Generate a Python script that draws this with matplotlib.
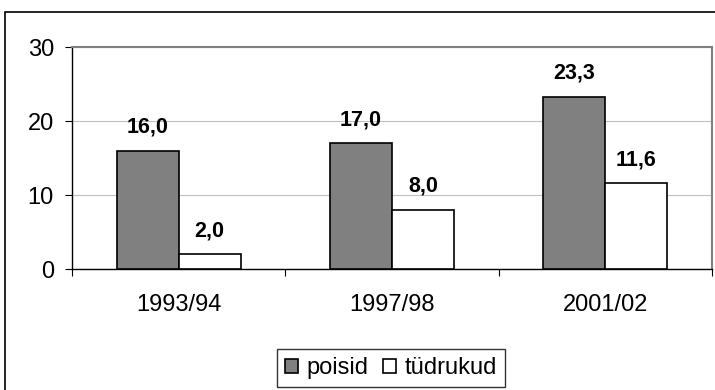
import matplotlib
matplotlib.use("Agg")
import matplotlib.pyplot as plt
import numpy as np
from matplotlib.patches import Rectangle

# Andmed
periods = ["1993/94", "1997/98", "2001/02"]
poisid = [16.0, 17.0, 23.3]
tudrukud = [2.0, 8.0, 11.6]

plt.rcParams["font.family"] = ["Liberation Sans", "DejaVu Sans"]
FS = 17

fig = plt.figure(figsize=(7.15, 3.9), dpi=100)
ax = fig.add_axes([72 / 715, 1 - 269 / 390, 640 / 715, 222 / 390])

x = np.arange(len(periods))
w = 0.29
b1 = ax.bar(x - w / 2, poisid, w, color="#808080", edgecolor="black",
            linewidth=1.2, label="poisid", zorder=3)
b2 = ax.bar(x + w / 2, tudrukud, w, color="white", edgecolor="black",
            linewidth=1.2, label="tüdrukud", zorder=3)

for bars, vals in ((b1, poisid), (b2, tudrukud)):
    for b, v in zip(bars, vals):
        ax.annotate(f"{v:.1f}".replace(".", ","),
                    (b.get_x() + b.get_width() / 2, v),
                    xytext=(0, 18), textcoords="offset pixels",
                    ha="center", va="baseline", fontsize=15.5,
                    fontweight="bold")

ax.set_xlim(-0.5, 2.5)
ax.set_ylim(0, 30)
ax.set_yticks([0, 10, 20, 30])
ax.yaxis.grid(True, color="#c0c0c0", lw=0.8, zorder=0)
ax.tick_params(axis="y", labelsize=FS, length=5, width=0.8, pad=8)

ax.set_xticks(x)
ax.set_xticklabels(periods)
ax.tick_params(axis="x", length=0, labelsize=FS, pad=18)
ax.set_xticks([-0.5, 0.5, 1.5, 2.5], minor=True)
ax.tick_params(axis="x", which="minor", length=5, width=0.8, direction="out")

for s in ("left", "bottom"):
    ax.spines[s].set_color("black")
    ax.spines[s].set_linewidth(1.0)
for s in ("top", "right"):
    ax.spines[s].set_color("#808080")
    ax.spines[s].set_linewidth(1.5)

leg = fig.legend(loc="center", bbox_to_anchor=(391 / 715, 1 - 368 / 390),
                 ncol=2, fontsize=FS, frameon=True, fancybox=False,
                 handlelength=0.55, handleheight=0.55, handletextpad=0.35,
                 columnspacing=0.6, borderpad=0.35)
leg.get_frame().set_edgecolor("black")
leg.get_frame().set_linewidth(1.0)

# Graafiku raam
fig.patches.append(Rectangle((5 / 715, -0.1), 1.2, 1 - 12 / 390 + 0.1,
                             transform=fig.transFigure, fill=False,
                             edgecolor="black", linewidth=1.2))

fig.savefig("out.png", dpi=100)
